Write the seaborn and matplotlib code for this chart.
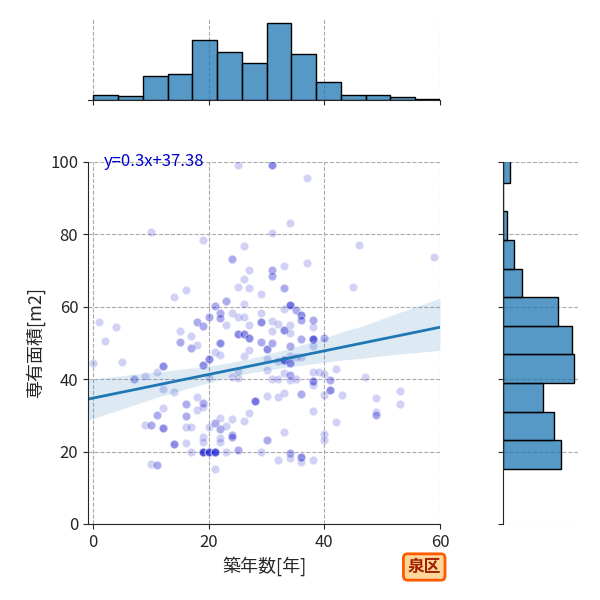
import numpy as np
import pandas as pd
import seaborn as sns
import matplotlib.pyplot as plt

# 築年数, 専有面積, and how many listings sit on that same spot
age = [0, 1, 2, 4, 5, 7, 9, 9, 10, 10, 10, 11, 11, 11, 12, 12, 12, 12,
       14, 14, 14, 15, 15, 16, 16, 16, 16, 16, 17, 17, 17, 17, 18, 18, 18, 18,
       19, 19, 19, 19, 19, 19, 19, 19, 20, 20, 20, 20, 20, 21, 21, 21, 21, 21,
       22, 22, 22, 22, 22, 22, 22, 22, 23, 23, 23, 23, 24, 24, 24, 24, 24, 24,
       25, 25, 25, 25, 25, 25, 25, 26, 26, 26, 26, 26, 26, 26,
       27, 27, 27, 27, 27, 27, 28, 29, 29, 29, 29, 29, 30, 30, 30, 30, 30,
       31, 31, 31, 31, 31, 31, 31, 31, 32, 32, 32, 32, 32,
       33, 33, 33, 33, 33, 33, 33, 33,
       34, 34, 34, 34, 34, 34, 34, 34, 34, 34, 34, 35, 35, 35,
       36, 36, 36, 36, 36, 36, 36, 37, 37,
       38, 38, 38, 38, 38, 38, 38, 38, 38, 39, 40, 40, 40, 40, 40, 41, 41,
       42, 42, 43, 45, 46, 47, 49, 49, 49, 53, 53, 59]
area = [44.5, 55.8, 50.5, 54.4, 44.7, 40.1, 41.0, 27.3, 80.6, 27.3, 16.5, 42.0, 30.0, 16.2, 43.6, 37.3, 32.0, 26.4,
        62.7, 36.5, 22.1, 53.3, 50.3, 64.6, 33.1, 29.8, 26.9, 22.3, 52.0, 48.5, 26.9, 19.9, 55.8, 49.4, 35.0, 31.4,
        78.4, 54.7, 43.8, 33.3, 32.2, 24.1, 22.6, 19.9, 57.3, 45.5, 40.6, 26.8, 19.9, 60.2, 47.6, 27.8, 19.9, 15.3,
        58.2, 56.8, 49.9, 46.7, 29.2, 26.3, 23.8, 22.7, 61.6, 54.9, 27.2, 19.9, 73.3, 58.4, 40.7, 29.0, 24.5, 23.9,
        99.3, 65.4, 57.3, 52.4, 42.3, 40.2, 20.4, 76.7, 67.8, 60.8, 57.3, 52.6, 46.4, 28.5,
        70.3, 65.2, 55.0, 51.3, 48.1, 30.7, 34.0, 63.5, 58.2, 55.8, 50.3, 19.9, 48.4, 45.6, 42.5, 35.4, 23.2,
        99.3, 80.4, 70.3, 68.4, 56.1, 53.4, 49.9, 40.1, 55.2, 45.0, 40.1, 35.1, 17.7,
        71.4, 65.2, 59.4, 53.5, 45.4, 41.7, 36.2, 25.4,
        83.1, 60.5, 55.0, 52.7, 49.3, 46.4, 44.4, 41.2, 39.8, 19.5, 18.1, 59.1, 46.2, 40.0,
        57.8, 56.4, 51.0, 46.2, 35.9, 18.6, 17.1, 95.5, 72.0,
        56.3, 54.4, 51.2, 49.2, 42.0, 39.6, 38.5, 31.1, 17.7, 42.0, 51.3, 41.5, 35.6, 24.9, 23.2, 39.8, 37.1,
        42.8, 28.1, 35.6, 65.5, 77.0, 40.5, 34.7, 31.0, 30.1, 36.7, 33.1, 73.7]
count = [1, 1, 1, 1, 1, 2, 1, 1, 1, 2, 1, 1, 2, 2, 3, 1, 1, 3,
         1, 1, 3, 1, 2, 1, 2, 2, 1, 1, 1, 2, 1, 1, 2, 1, 1, 1,
         1, 2, 3, 2, 1, 1, 1, 6, 2, 3, 1, 1, 6, 2, 1, 2, 6, 1,
         2, 2, 3, 1, 1, 2, 1, 1, 2, 1, 1, 1, 2, 1, 1, 1, 2, 2,
         1, 1, 1, 3, 1, 1, 2, 1, 1, 1, 1, 3, 1, 1,
         1, 1, 1, 3, 1, 1, 4, 1, 1, 3, 2, 1, 3, 1, 1, 1, 2,
         3, 1, 2, 2, 1, 1, 2, 1, 1, 1, 1, 1, 1,
         1, 2, 1, 3, 5, 1, 1, 1,
         1, 4, 1, 1, 2, 1, 3, 2, 1, 2, 1, 2, 1, 1,
         3, 2, 2, 1, 2, 3, 1, 1, 1,
         2, 1, 5, 1, 1, 3, 1, 1, 1, 1, 2, 1, 1, 1, 1, 2, 3,
         1, 1, 1, 1, 1, 1, 1, 1, 2, 1, 1, 1]

df = pd.DataFrame({"築年数[年]": age, "専有面積[m2]": area, "n": count})
df = df.loc[df.index.repeat(df["n"])].reset_index(drop=True)

sns.set_style("ticks")
plt.rcParams["font.family"] = ["Noto Sans CJK JP", "DejaVu Sans"]

g = sns.JointGrid(data=df, x="築年数[年]", y="専有面積[m2]", height=6, ratio=3, space=0.7)
ax = g.ax_joint
ax.set_xlim(-0.9, 60)
ax.set_ylim(0, 100)

sns.regplot(data=df, x="築年数[年]", y="専有面積[m2]", ax=ax, truncate=False, seed=0,
            scatter_kws=dict(color="mediumblue", alpha=0.18, edgecolor="white", linewidths=1, s=36),
            line_kws=dict(color="#1f77b4", lw=2))

hist_kws = dict(color="#1f77b4", alpha=0.75, edgecolor="black", linewidth=1)
sns.histplot(data=df, x="築年数[年]", ax=g.ax_marg_x, bins=14, binrange=(0, 60), **hist_kws)
sns.histplot(data=df, y="専有面積[m2]", ax=g.ax_marg_y, bins=11, binrange=(15.2, 102.2), **hist_kws)

ax.set_xlim(-0.9, 60)
ax.set_ylim(0, 100)
ax.set_xticks([0, 20, 40, 60])
ax.set_yticks([0, 20, 40, 60, 80, 100])
ax.tick_params(labelsize=12)
ax.set_xlabel("築年数[年]", fontsize=13)
ax.set_ylabel("専有面積[m2]", fontsize=13)

grid = dict(linestyle="--", color="#aaaaaa", linewidth=0.8)
ax.grid(True, **grid)
g.ax_marg_x.xaxis.grid(True, **grid)
g.ax_marg_y.yaxis.grid(True, **grid)
g.ax_marg_x.set_ylabel("")
g.ax_marg_y.set_xlabel("")

ax.text(1.9, 100, "y=0.3x+37.38", color="mediumblue", fontsize=12, va="center", ha="left")

ax.set_position([0.1467, 0.1267, 0.5867, 0.6033])
g.ax_marg_x.set_position([0.1467, 0.8333, 0.5867, 0.135])
g.ax_marg_y.set_position([0.8383, 0.1267, 0.125, 0.6033])

g.figure.text(0.707, 0.055, "泉区", fontsize=12, fontweight="bold", color="#a02000",
              ha="center", va="center",
              bbox=dict(boxstyle="round,pad=0.25", facecolor="#ffd699", edgecolor="#ff5a00", linewidth=2))

g.figure.savefig("out.png", dpi=100)
